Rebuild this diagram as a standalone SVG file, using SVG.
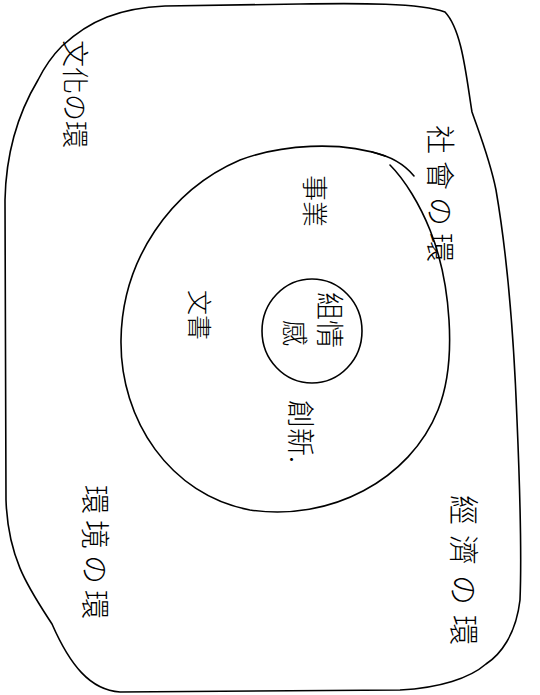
<svg xmlns="http://www.w3.org/2000/svg" width="540" height="695" viewBox="0 0 540 695">
<style>
.ln{fill:none;stroke:#000;stroke-width:1.6;stroke-linecap:round;stroke-linejoin:round}
.t{font-family:"Noto Sans CJK TC","Noto Sans CJK JP",sans-serif;fill:#000;font-weight:300}
</style>
<rect width="540" height="695" fill="#fff"/>
<g id="outer">
<path class="ln" d="M62,46 C90,20 120,8 165,6 L300,4 C360,3 420,3 445,12 C462,30 466,75 472,112 C480,135 490,160 496,190 C508,260 514,340 517,420 C520,490 522,550 520,600 C516,635 500,655 486,664 C470,678 440,688 400,690 L120,692 C90,690 70,665 52,624 C30,590 8,560 6,500 L5,200 C6,150 20,110 38,80 C45,66 52,56 62,46"/>
<text class="t" font-size="27" transform="translate(65,40) rotate(90)">文化の環</text>
<text class="t" font-size="29" letter-spacing="7" transform="translate(429,125) rotate(90)">社會の環</text>
<text class="t" font-size="29" letter-spacing="6" transform="translate(84,485) rotate(90)">環境の環</text>
<text class="t" font-size="30" letter-spacing="10" transform="translate(453,495) rotate(90)">經濟の環</text>
</g>
<g id="middle">
<path class="ln" d="M385,156 C340,140 280,145 240,160 C170,190 122,260 121,340 C120,420 170,495 250,510 C330,522 410,480 438,410 C458,360 450,280 430,230 C420,205 405,180 390,165"/>
<path class="ln" d="M372,152 C390,156 405,165 414,176"/>
<text class="t" font-size="26" transform="translate(305,175) rotate(90)">事業</text>
<text class="t" font-size="25" transform="translate(190,290) rotate(90)">文書</text>
<text class="t" font-size="28" transform="translate(290,400) rotate(90)">創新.</text>
</g>
<g id="inner">
<ellipse class="ln" cx="312" cy="331" rx="50" ry="52"/>
<text class="t" font-size="28" transform="translate(319,292) rotate(90)">組情</text>
<text class="t" font-size="26" transform="translate(285,320) rotate(90)">感</text>
</g>
</svg>
